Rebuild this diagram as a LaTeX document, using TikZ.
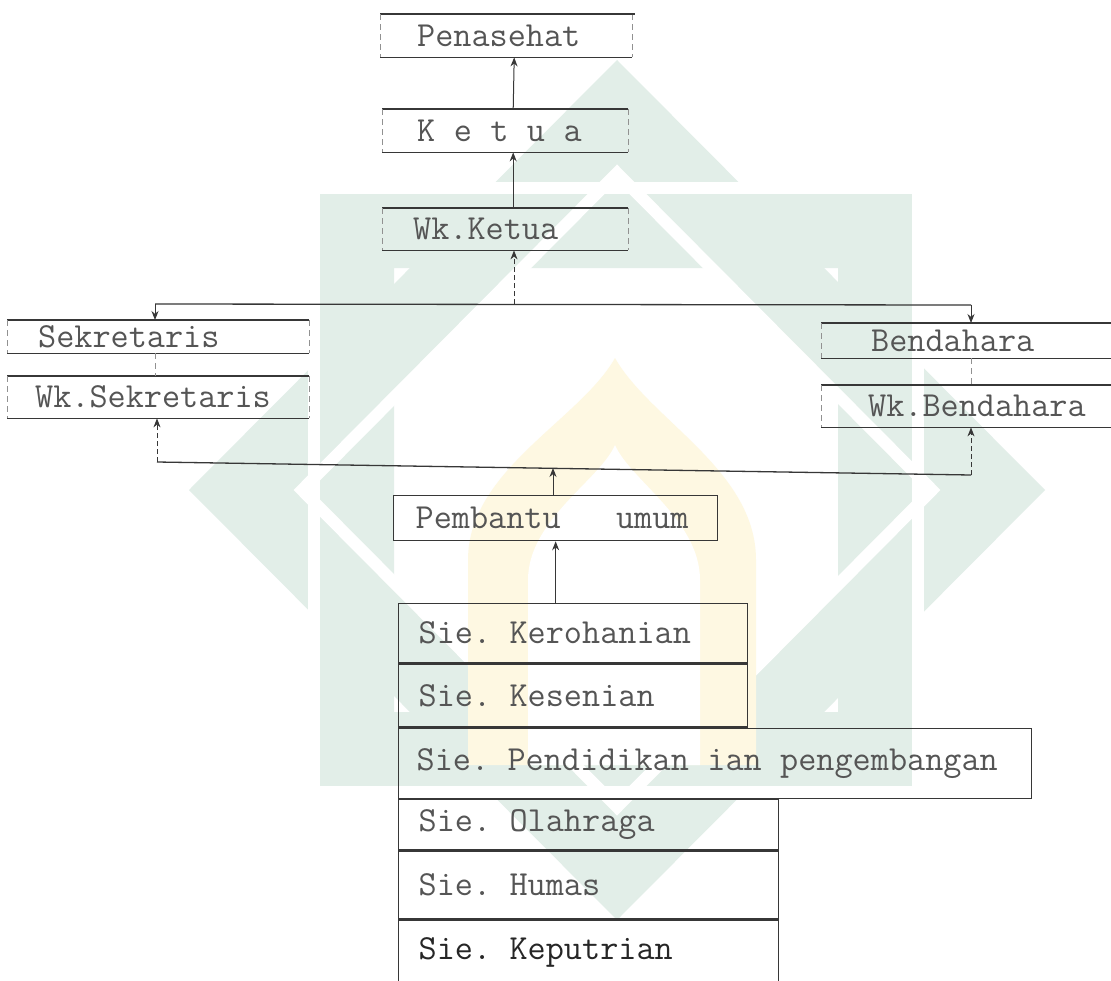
\documentclass[tikz,border=0pt]{standalone}
\usetikzlibrary{arrows.meta,positioning}
\definecolor{orgink}{RGB}{55,55,55}
\definecolor{orgtext}{RGB}{85,85,85}
\definecolor{wmteal}{RGB}{226,238,232}
\definecolor{wmgold}{RGB}{254,248,226}
\frenchspacing
\protected\def\orgfont{\ttfamily\fontsize{35.2}{38}\selectfont\spaceskip=0.525em\relax}

\begin{document}
\begin{tikzpicture}[x=1pt,y=-1pt,
    post/.style={anchor=north west,inner sep=0pt,align=flush left,text=orgtext,font=\orgfont},
    unit/.style={post,draw=orgink,line width=1.3pt},
    rule/.style={orgink,line width=1.8pt},
    side/.style={orgink!55,line width=0.9pt,dash pattern=on 6pt off 4pt},
    arr/.style={orgink,line width=1pt,-{Stealth[length=9pt,width=7pt]}},
    darr/.style={arr,dash pattern=on 5pt off 3pt},
    bus/.style={orgink,line width=1.3pt}
  ]
  \useasboundingbox (0,0) rectangle (1111,980);
  \fill[white] (0,0) rectangle (1111,980);

  % watermark in the background
  \fill[wmteal,even odd rule] (314,188) rectangle (918,792) (394,268) rectangle (838,712);
  \fill[wmteal,even odd rule] (617,60) -- (1045,490) -- (617,920) -- (189,490) -- cycle
    (617,173) -- (932,490) -- (617,807) -- (302,490) -- cycle;
  \draw[white,line width=12pt] (617,173) -- (932,490) -- (617,807) -- (302,490) -- cycle;
  \draw[white,line width=12pt] (314,188) rectangle (918,792);
  \fill[wmgold] (468,765) -- (468,560) .. controls (468,470) and (580,420) .. (615,358)
    .. controls (650,420) and (756,470) .. (756,560) -- (756,765) -- cycle;
  \fill[white] (528,765) -- (528,580) .. controls (528,520) and (600,480) .. (615,445)
    .. controls (630,480) and (700,520) .. (700,580) -- (700,765) -- cycle;

  % pengurus inti
  \node[post,minimum width=252pt,minimum height=43pt,text width=178pt] (pen) at (380,14) {Penasehat};
  \node[post,minimum width=246pt,minimum height=43pt,text width=176pt] (ket) at (382,109) {K e t u a};
  \node[post,minimum width=246pt,minimum height=42pt,text width=184pt] (wket) at (382,208) {Wk.Ketua};
  \node[post,minimum width=302pt,minimum height=33pt,text width=240pt] (sek) at (7,320) {Sekretaris};
  \node[post,minimum width=302pt,minimum height=42pt,text width=246pt] (wsek) at (7,376) {Wk.Sekretaris};
  \node[post,minimum width=320pt,minimum height=35pt,text width=220pt] (ben) at (821,323) {Bendahara};
  \node[post,minimum width=320pt,minimum height=42pt,text width=226pt] (wben) at (821,385) {Wk.Bendahara};
  \foreach \n in {pen,ket,wket,sek,wsek,ben,wben} {
    \draw[rule] (\n.north west) -- (\n.north east) (\n.south west) -- (\n.south east);
    \draw[side] (\n.north west) -- (\n.south west) (\n.north east) -- (\n.south east);
  }
  \draw[orgink,line width=2.8pt] ([xshift=15pt]pen.north west) -- ([xshift=3pt]pen.north east);

  \node[unit,minimum width=324pt,minimum height=45pt,text width=280pt] (pem) at (393,495) {Pembantu~~~umum};

  % seksi-seksi
  \node[unit,minimum width=349pt,minimum height=59pt,text width=309pt] (sie1) at (398,603) {Sie. Kerohanian};
  \node[unit,minimum width=349pt,minimum height=63pt,text width=309pt,below right=0pt and 0pt of sie1.south west] (sie2) {Sie. Kesenian};
  \node[unit,minimum width=633pt,minimum height=70pt,text width=597pt,below right=0pt and 0pt of sie2.south west] (sie3) {Sie. Pendidikan ian pengembangan};
  \node[unit,minimum width=380pt,minimum height=50pt,text width=340pt,below right=0pt and 0pt of sie3.south west] (sie4) {Sie. Olahraga};
  \node[unit,minimum width=380pt,minimum height=68pt,text width=340pt,below right=0pt and 0pt of sie4.south west] (sie5) {Sie. Humas};
  \node[unit,minimum width=380pt,minimum height=65pt,text width=340pt,text=black!85,below right=0pt and 0pt of sie5.south west] (sie6) {Sie. Keputrian};

  % garis komando
  \draw[arr] ([xshift=8pt]ket.north) -- ([xshift=8pt]pen.south);
  \draw[arr] ([xshift=8pt]wket.north) -- ([xshift=8pt]ket.south);

  \coordinate (busL) at (155,304);
  \coordinate (busM) at (514,304);
  \coordinate (busR) at (971,305);
  \draw[bus] (busL) -- (busR);
  \draw[arr] (busL) -- (busL |- sek.north);
  \draw[darr] (busM) -- (busM |- wket.south);
  \draw[arr] (busR) -- (busR |- ben.north);
  \draw[side] (busL |- sek.south) -- (busL |- wsek.north);
  \draw[side] (busR |- ben.south) -- (busR |- wben.north);

  \coordinate (lowL) at (157,462);
  \coordinate (lowM) at (553,468);
  \coordinate (lowR) at (971,475);
  \draw[bus] (lowL) -- (lowR);
  \draw[darr] (lowL) -- (lowL |- wsek.south);
  \draw[darr] (lowR) -- (lowR |- wben.south);
  \draw[arr] (lowM |- pem.north) -- (lowM);
  \draw[arr] (pem.south |- sie1.north) -- (pem.south);
\end{tikzpicture}
\end{document}
